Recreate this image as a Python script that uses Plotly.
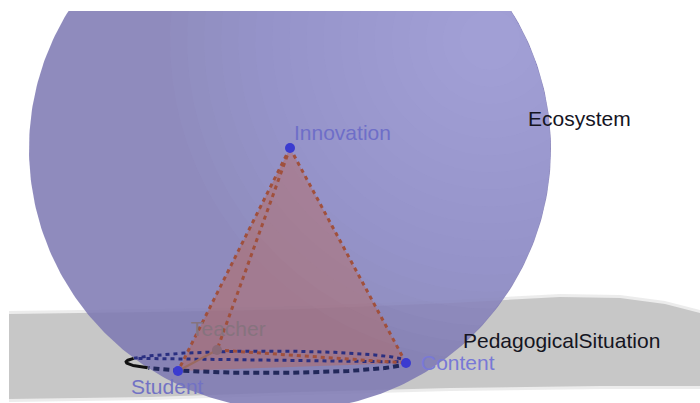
import numpy as np
import plotly.graph_objects as go

# ---- data (image-pixel coordinates, y downward) ----
point_names = ["Innovation", "Teacher", "Content", "Student"]
point_x = [290, 217, 406, 178]
point_y = [148, 350, 363, 371]
point_colors = ["#3b3bd0", "#8a6a78", "#3b3bd0", "#3b3bd0"]

label_names = ["Innovation", "Teacher", "Content", "Student", "Ecosystem", "PedagogicalSituation"]
label_x = [292, 189, 419, 129, 526, 461]
label_y = [132, 328, 362, 386, 118, 340]
label_colors = ["#6e6ec8", "#86737e", "#7878d6", "#7272c4", "#15151f", "#15151f"]

sphere_center = [290, 149]
sphere_radius = 261
highlight_center = [490, 40]

ellipse_center = [267, 362]
ellipse_axes = [141, 11]

plane_top_x = [9, 150, 300, 450, 560, 620, 665, 700]
plane_top_y = [314, 312, 309, 303, 297, 298, 304, 313]
plane_bot_x = [700, 600, 450, 300, 150, 9]
plane_bot_y = [386, 386, 388, 392, 397, 399]

fig = go.Figure()

def add_poly(xs, ys, color):
    fig.add_trace(go.Scatter(x=list(xs) + [xs[0]], y=list(ys) + [ys[0]], mode="lines",
                             fill="toself", fillcolor=color,
                             line=dict(width=0, color="rgba(0,0,0,0)"),
                             hoverinfo="skip", showlegend=False))

# plane
px = np.array(plane_top_x + plane_bot_x, dtype=float)
py = np.array(plane_top_y + plane_bot_y, dtype=float)
ntop = len(plane_top_x)
for grow, col in [(3, "rgba(200,200,200,0.35)"), (0, "rgb(199,199,199)")]:
    gy = py.copy()
    gy[:ntop] -= grow
    gy[ntop:] += grow
    add_poly(px, gy, col)
# smooth lighter fade toward the right end of the plane
top_x = np.array(plane_top_x, dtype=float)
top_y = np.array(plane_top_y, dtype=float)
bx = np.array(plane_bot_x[::-1], dtype=float)
by = np.array(plane_bot_y[::-1], dtype=float)
for x0 in np.linspace(540, 695, 30):
    xx = np.linspace(x0, 700, 20)
    ty = np.interp(xx, top_x, top_y)
    bb = np.interp(xx, bx, by)
    add_poly(list(xx) + list(xx[::-1]), list(ty) + list(bb[::-1]), "rgba(255,255,255,0.013)")

# sphere
t = np.linspace(0, 2 * np.pi, 400)
sx = sphere_center[0] + sphere_radius * np.cos(t)
sy = sphere_center[1] + sphere_radius * np.sin(t)
add_poly(sx, sy, "rgba(125,120,178,0.86)")

def disk_intersection(c1, r1, c2, r2, n=500):
    tt = np.linspace(0, 2 * np.pi, n, endpoint=False)
    pts = []
    for (a, ra, b, rb) in [(c1, r1, c2, r2), (c2, r2, c1, r1)]:
        x = a[0] + ra * np.cos(tt)
        y = a[1] + ra * np.sin(tt)
        inside = (x - b[0]) ** 2 + (y - b[1]) ** 2 <= rb ** 2
        pts += list(zip(x[inside], y[inside]))
    pts = np.array(pts)
    m = pts.mean(axis=0)
    ang = np.arctan2(pts[:, 1] - m[1], pts[:, 0] - m[0])
    pts = pts[np.argsort(ang)]
    return pts[:, 0], pts[:, 1]

# smooth shading highlight toward top right
for r in np.linspace(320, 30, 18):
    hx, hy = disk_intersection(sphere_center, sphere_radius - 0.5, highlight_center, r)
    add_poly(hx, hy, "rgba(205,205,255,0.035)")

# tetrahedron faces
I, T, C, S = [(point_x[i], point_y[i]) for i in range(4)]
add_poly([I[0], S[0], C[0]], [I[1], S[1], C[1]], "rgba(190,100,80,0.40)")
add_poly([I[0], S[0], T[0]], [I[1], S[1], T[1]], "rgba(190,100,80,0.08)")

# ellipse
te = np.linspace(0, 2 * np.pi, 600)
ex = ellipse_center[0] + ellipse_axes[0] * np.cos(te)
ey = ellipse_center[1] + ellipse_axes[1] * np.sin(te)
inside = (ex - sphere_center[0]) ** 2 + (ey - sphere_center[1]) ** 2 <= sphere_radius ** 2
back = (ey <= ellipse_center[1]) & inside
front = (ey > ellipse_center[1]) & inside
out = ~inside

def add_line(x, y, color, width, dash="solid"):
    fig.add_trace(go.Scatter(x=x, y=y, mode="lines", line=dict(color=color, width=width, dash=dash),
                             hoverinfo="skip", showlegend=False))

idx_back = np.where(back)[0]
add_line(ex[idx_back][::-1], ey[idx_back][::-1], "#2a2f80", 3, "4px,4px")
idx_front = np.where(front)[0]
add_line(ex[idx_front], ey[idx_front], "#22285a", 4, "6px,4px")
idx_out = np.where(out)[0]
ang = te[idx_out]
ang = np.where(ang < np.pi / 2, ang + 2 * np.pi, ang)
o = np.argsort(ang)
add_line(ex[idx_out][o], ey[idx_out][o], "#111111", 3)

# tetrahedron edges
edge_col = "#a0503c"
for a, b in [(I, S), (I, T), (I, C), (T, C)]:
    add_line([a[0], b[0]], [a[1], b[1]], edge_col, 3, "4px,4px")
add_line([S[0], T[0]], [S[1], T[1]], "#9a6a60", 2)

# points
fig.add_trace(go.Scatter(x=point_x, y=point_y, mode="markers",
                         marker=dict(size=10, color=point_colors, line=dict(width=0)),
                         hoverinfo="skip", showlegend=False))

for name, x, y, col in zip(label_names, label_x, label_y, label_colors):
    fig.add_annotation(x=x, y=y, text=name, showarrow=False, xanchor="left", yanchor="middle",
                       font=dict(family="Liberation Sans, Arial, sans-serif", size=21, color=col))

fig.update_layout(width=700, height=403, margin=dict(l=0, r=0, t=11, b=0),
                  paper_bgcolor="white", plot_bgcolor="white",
                  xaxis=dict(range=[0, 700], visible=False, fixedrange=True),
                  yaxis=dict(range=[403, 11], visible=False, fixedrange=True))
fig.write_html("out.html", config={"displayModeBar": False},
               post_script="document.body.style.margin='0';document.body.style.overflow='hidden';")
